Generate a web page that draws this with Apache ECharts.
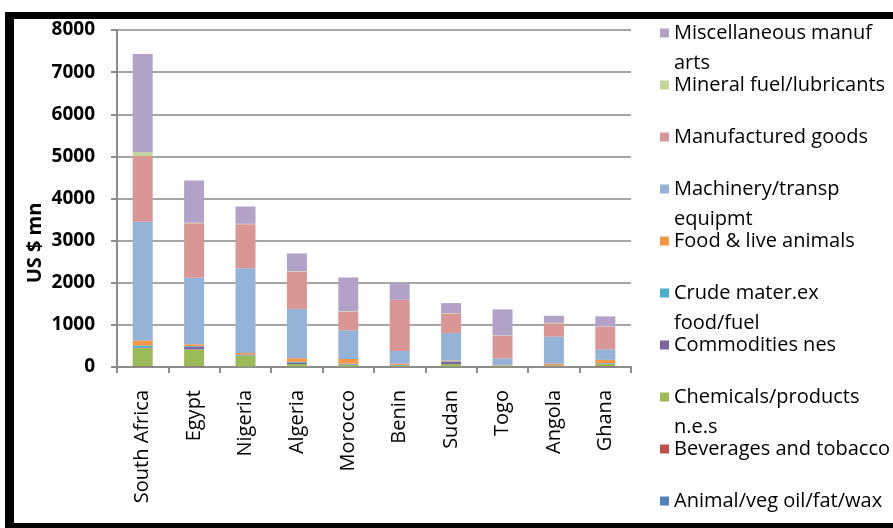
<!DOCTYPE html>
<html>
<head>
<meta charset="utf-8">
<script src="https://cdn.jsdelivr.net/npm/echarts@6/dist/echarts.min.js"></script>
<style>
  html, body { margin: 0; padding: 0; background: #fff; }
  #chart { width: 893px; height: 528px; }
</style>
</head>
<body>
<div id="chart"></div>
<script>
// countries on the x axis
var countries = ['South Africa', 'Egypt', 'Nigeria', 'Algeria', 'Morocco', 'Benin', 'Sudan', 'Togo', 'Angola', 'Ghana'];

// export values, US $ mn (stacked bottom -> top)
var animalVeg     = [10, 10, 5, 5, 5, 5, 5, 5, 5, 10];
var beverages     = [10, 10, 5, 5, 5, 10, 5, 5, 10, 10];
var chemicals     = [430, 400, 250, 60, 40, 20, 60, 15, 10, 50];
var commodities   = [15, 55, 10, 30, 10, 5, 50, 5, 5, 10];
var crudeMater    = [45, 20, 20, 20, 20, 10, 15, 5, 10, 10];
var food          = [120, 45, 45, 90, 110, 30, 20, 10, 40, 80];
var machinery     = [2820, 1580, 2010, 1170, 680, 300, 650, 160, 640, 250];
var manufactured  = [1560, 1290, 1045, 885, 440, 1210, 467, 537, 317, 537];
var mineralFuel   = [90, 15, 10, 10, 15, 5, 10, 10, 10, 5];
var miscManuf     = [2330, 1000, 410, 420, 800, 390, 235, 615, 170, 240];

var seriesNames = ['Animal/veg oil/fat/wax', 'Beverages and tobacco', 'Chemicals/products n.e.s', 'Commodities nes',
  'Crude mater.ex food/fuel', 'Food & live animals', 'Machinery/transp equipmt', 'Manufactured goods',
  'Mineral fuel/lubricants', 'Miscellaneous manuf arts'];
var seriesData = [animalVeg, beverages, chemicals, commodities, crudeMater, food, machinery, manufactured, mineralFuel, miscManuf];
var colors = ['#4F81BD', '#C0504D', '#9BBB59', '#8064A2', '#4BACC6', '#F79646', '#95B3D7', '#D99694', '#C3D69B', '#B3A2C7'];

// legend text wraps like the original
var wrapped = {
  'Miscellaneous manuf arts': 'Miscellaneous manuf\narts',
  'Machinery/transp equipmt': 'Machinery/transp\nequipmt',
  'Crude mater.ex food/fuel': 'Crude mater.ex\nfood/fuel',
  'Chemicals/products n.e.s': 'Chemicals/products\nn.e.s'
};

var LH = 30;
var font = 'Open Sans';
var blank = '\u00a0';

var series = [];
for (var i = 0; i < seriesNames.length; i++) {
  series.push({
    name: seriesNames[i],
    type: 'bar',
    stack: 'total',
    barWidth: 20,
    data: seriesData[i],
    itemStyle: { color: colors[i] }
  });
}

var chart = echarts.init(document.getElementById('chart'));
var option = {
  animation: false,
  backgroundColor: '#fff',
  color: colors,
  grid: { left: 117, right: 262, top: 30, bottom: 161 },
  legend: {
    orient: 'vertical',
    left: 660,
    top: -12,
    height: 640,
    padding: 0,
    itemGap: 52 - 3 * LH,
    itemWidth: 9,
    itemHeight: 9,
    icon: 'rect',
    data: seriesNames.slice().reverse(),
    // 3 lines per entry so the icon sits on the first text line
    formatter: function (n) {
      return wrapped[n] ? blank + '\n' + wrapped[n] : blank + '\n' + n + '\n' + blank;
    },
    textStyle: { fontFamily: font, fontSize: 20, color: '#000', lineHeight: LH }
  },
  xAxis: {
    type: 'category',
    data: countries,
    axisLine: { lineStyle: { color: '#8c8c8c', width: 2 } },
    axisTick: { show: true, length: 6, lineStyle: { color: '#8c8c8c', width: 2 } },
    axisLabel: { rotate: 90, margin: 23, fontFamily: font, fontSize: 20, color: '#000' }
  },
  yAxis: {
    type: 'value',
    min: 0,
    max: 8000,
    interval: 1000,
    axisLine: { show: true, lineStyle: { color: '#8c8c8c', width: 2 } },
    axisTick: { show: true, length: 6, lineStyle: { color: '#8c8c8c', width: 2 } },
    axisLabel: {
      margin: 22, fontFamily: font, fontSize: 19, fontWeight: 'bold', color: '#000',
      formatter: function (v) { return String(v); }
    },
    splitLine: { lineStyle: { color: '#a6a6a6', width: 2 } }
  },
  graphic: [
    { type: 'rect', shape: { x: 5, y: 12, width: 9, height: 516 }, style: { fill: '#000' } },
    { type: 'rect', shape: { x: 5, y: 12, width: 888, height: 7 }, style: { fill: '#000' } },
    { type: 'rect', shape: { x: 5, y: 523, width: 888, height: 5 }, style: { fill: '#000' } },
    {
      type: 'text', x: 35, y: 243, rotation: Math.PI / 2,
      style: { text: 'US $ mn', align: 'center', verticalAlign: 'middle', fontFamily: font, fontSize: 20, fontWeight: 'bold', fill: '#000' }
    }
  ],
  series: series
};
chart.setOption(option);
</script>
</body>
</html>
